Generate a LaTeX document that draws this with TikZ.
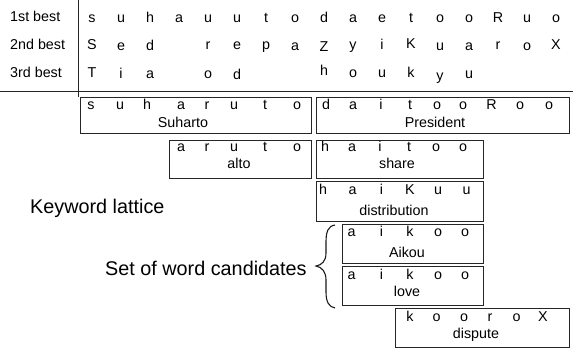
\documentclass[tikz,border=0pt]{standalone}
\usepackage{fontspec}
\setmainfont{Liberation Sans}
\begin{document}
\begin{tikzpicture}[x=1pt,y=-1pt,
  let/.style={anchor=base,inner sep=0pt,font=\fontsize{14.3}{16}\selectfont},
  lab/.style={anchor=base west,inner sep=0pt,font=\fontsize{14.3}{16}\selectfont},
  lbox/.style={draw=black!85,line width=0.9pt,anchor=north west,inner sep=0pt},
  big/.style={anchor=base west,inner sep=0pt,font=\fontsize{19.8}{22}\selectfont},
  rulest/.style={line width=1pt,draw=black!85},
  bracest/.style={line width=1.1pt,draw=black!90}]
\useasboundingbox (0,0) rectangle (573,349);

% frame lines
\coordinate (vt) at (78,0);
\coordinate (vb) at (78,97);
\coordinate (hl) at (0,91);
\coordinate (hr) at (573,91);
\draw[rulest] (vt) -- (vb);
\draw[rulest] (hl) -- (hr);

% row labels
\node[lab] (l1) at (10,21) {1st best};
\node[lab] (l2) at (10,49) {2nd best};
\node[lab] (l3) at (10,77) {3rd best};

% 1st best row
\foreach \x/\c/\d [count=\i] in {92/s/0,121/u/0,150/h/0,179/a/0,208/u/0,237/u/0,266/t/0,295/o/0,324/d/0,353/a/0,382/e/0,411/t/0,440/o/0,469/o/0,498/R/0,527/u/0,556/o/0}
  \node[let] (ra\i) at (\x,22+\d) {\c};
% 2nd best row
\foreach \x/\c/\d [count=\i] in {92/S/0,121/e/1.5,150/d/1.5,208/r/0,237/e/0,266/p/0,295/a/1.5,324/Z/2.5,353/y/0,382/i/0,411/K/-1,440/u/1.5,469/a/1.5,498/r/0,527/o/1.5,556/X/0}
  \node[let] (rb\i) at (\x,49+\d) {\c};
% 3rd best row
\foreach \x/\c/\d [count=\i] in {92/T/0,121/i/1,150/a/1,208/o/1,237/d/2,324/h/-1.5,353/o/0,382/u/0,411/k/0,440/y/3,469/u/1}
  \node[let] (rc\i) at (\x,77+\d) {\c};

% lattice boxes
\node[lbox,minimum width=231pt,minimum height=36pt] (suharto) at (80,97) {};
\node[lbox,minimum width=253pt,minimum height=36pt] (president) at (316,97) {};
\node[lbox,minimum width=142pt,minimum height=38pt] (alto) at (169,140) {};
\node[lbox,minimum width=167pt,minimum height=38pt] (share) at (316,140) {};
\node[lbox,minimum width=167pt,minimum height=40pt] (distribution) at (316,181) {};
\node[lbox,minimum width=141pt,minimum height=39pt] (aikou) at (342,224) {};
\node[lbox,minimum width=141pt,minimum height=39pt] (love) at (342,266) {};
\node[lbox,minimum width=174pt,minimum height=39pt] (dispute) at (395,308) {};

% Suharto
\foreach \x/\c [count=\i] in {91/s,120/u,147/h,181/a,207/r,234/u,265/t,297/o}
  \node[let] (sa\i) at (\x,109) {\c};
\node[let] (saw) at (183,127) {Suharto};
% President
\foreach \x/\c [count=\i] in {326/d,353/a,381/i,410/t,437/o,463/o,491.5/R,520/o,549/o}
  \node[let] (pr\i) at (\x,109) {\c};
\node[let] (prw) at (435,127) {President};
% alto
\foreach \x/\c [count=\i] in {181/a,207/r,234/u,265/t,297/o}
  \node[let] (al\i) at (\x,151.5) {\c};
\node[let] (alw) at (239,168) {alto};
% share
\foreach \x/\c [count=\i] in {325/h,352/a,380/i,409/t,436/o,463/o}
  \node[let] (sh\i) at (\x,151.5) {\c};
\node[let] (shw) at (397,168) {share};
% distribution
\foreach \x/\c [count=\i] in {323/h,352.5/a,381.5/i,410/K,438/u,466.5/u}
  \node[let] (di\i) at (\x,194.5) {\c};
\node[let] (diw) at (394,215) {distribution};
% Aikou
\foreach \x/\c [count=\i] in {351.5/a,381.5/i,410/k,438/o,465/o}
  \node[let] (ai\i) at (\x,236.5) {\c};
\node[let] (aiw) at (407,257.5) {Aikou};
% love
\foreach \x/\c [count=\i] in {351.5/a,381.5/i,410/k,438/o,465/o}
  \node[let] (lo\i) at (\x,279) {\c};
\node[let] (low) at (407,296) {love};
% dispute
\foreach \x/\c [count=\i] in {410/k,436.5/o,464/o,490/r,516.5/o,543/X}
  \node[let] (ds\i) at (\x,321) {\c};
\node[let] (dsw) at (476,338) {dispute};

% labels
\node[big] (kl) at (30,213.5) {Keyword lattice};
\node[big] (swc) at (105,275) {Set of word candidates};

% brace
\coordinate (bt) at (335,225);
\coordinate (btip) at (316,266);
\coordinate (bb) at (335,308);
\draw[bracest] (bt) .. controls (328,226) and (326,232) .. (326,242) -- (326,253)
  .. controls (326,261) and (322,265) .. (btip)
  .. controls (322,267) and (326,272) .. (326,280) -- (326,292)
  .. controls (326,302) and (329,307) .. (bb);
\end{tikzpicture}
\end{document}
